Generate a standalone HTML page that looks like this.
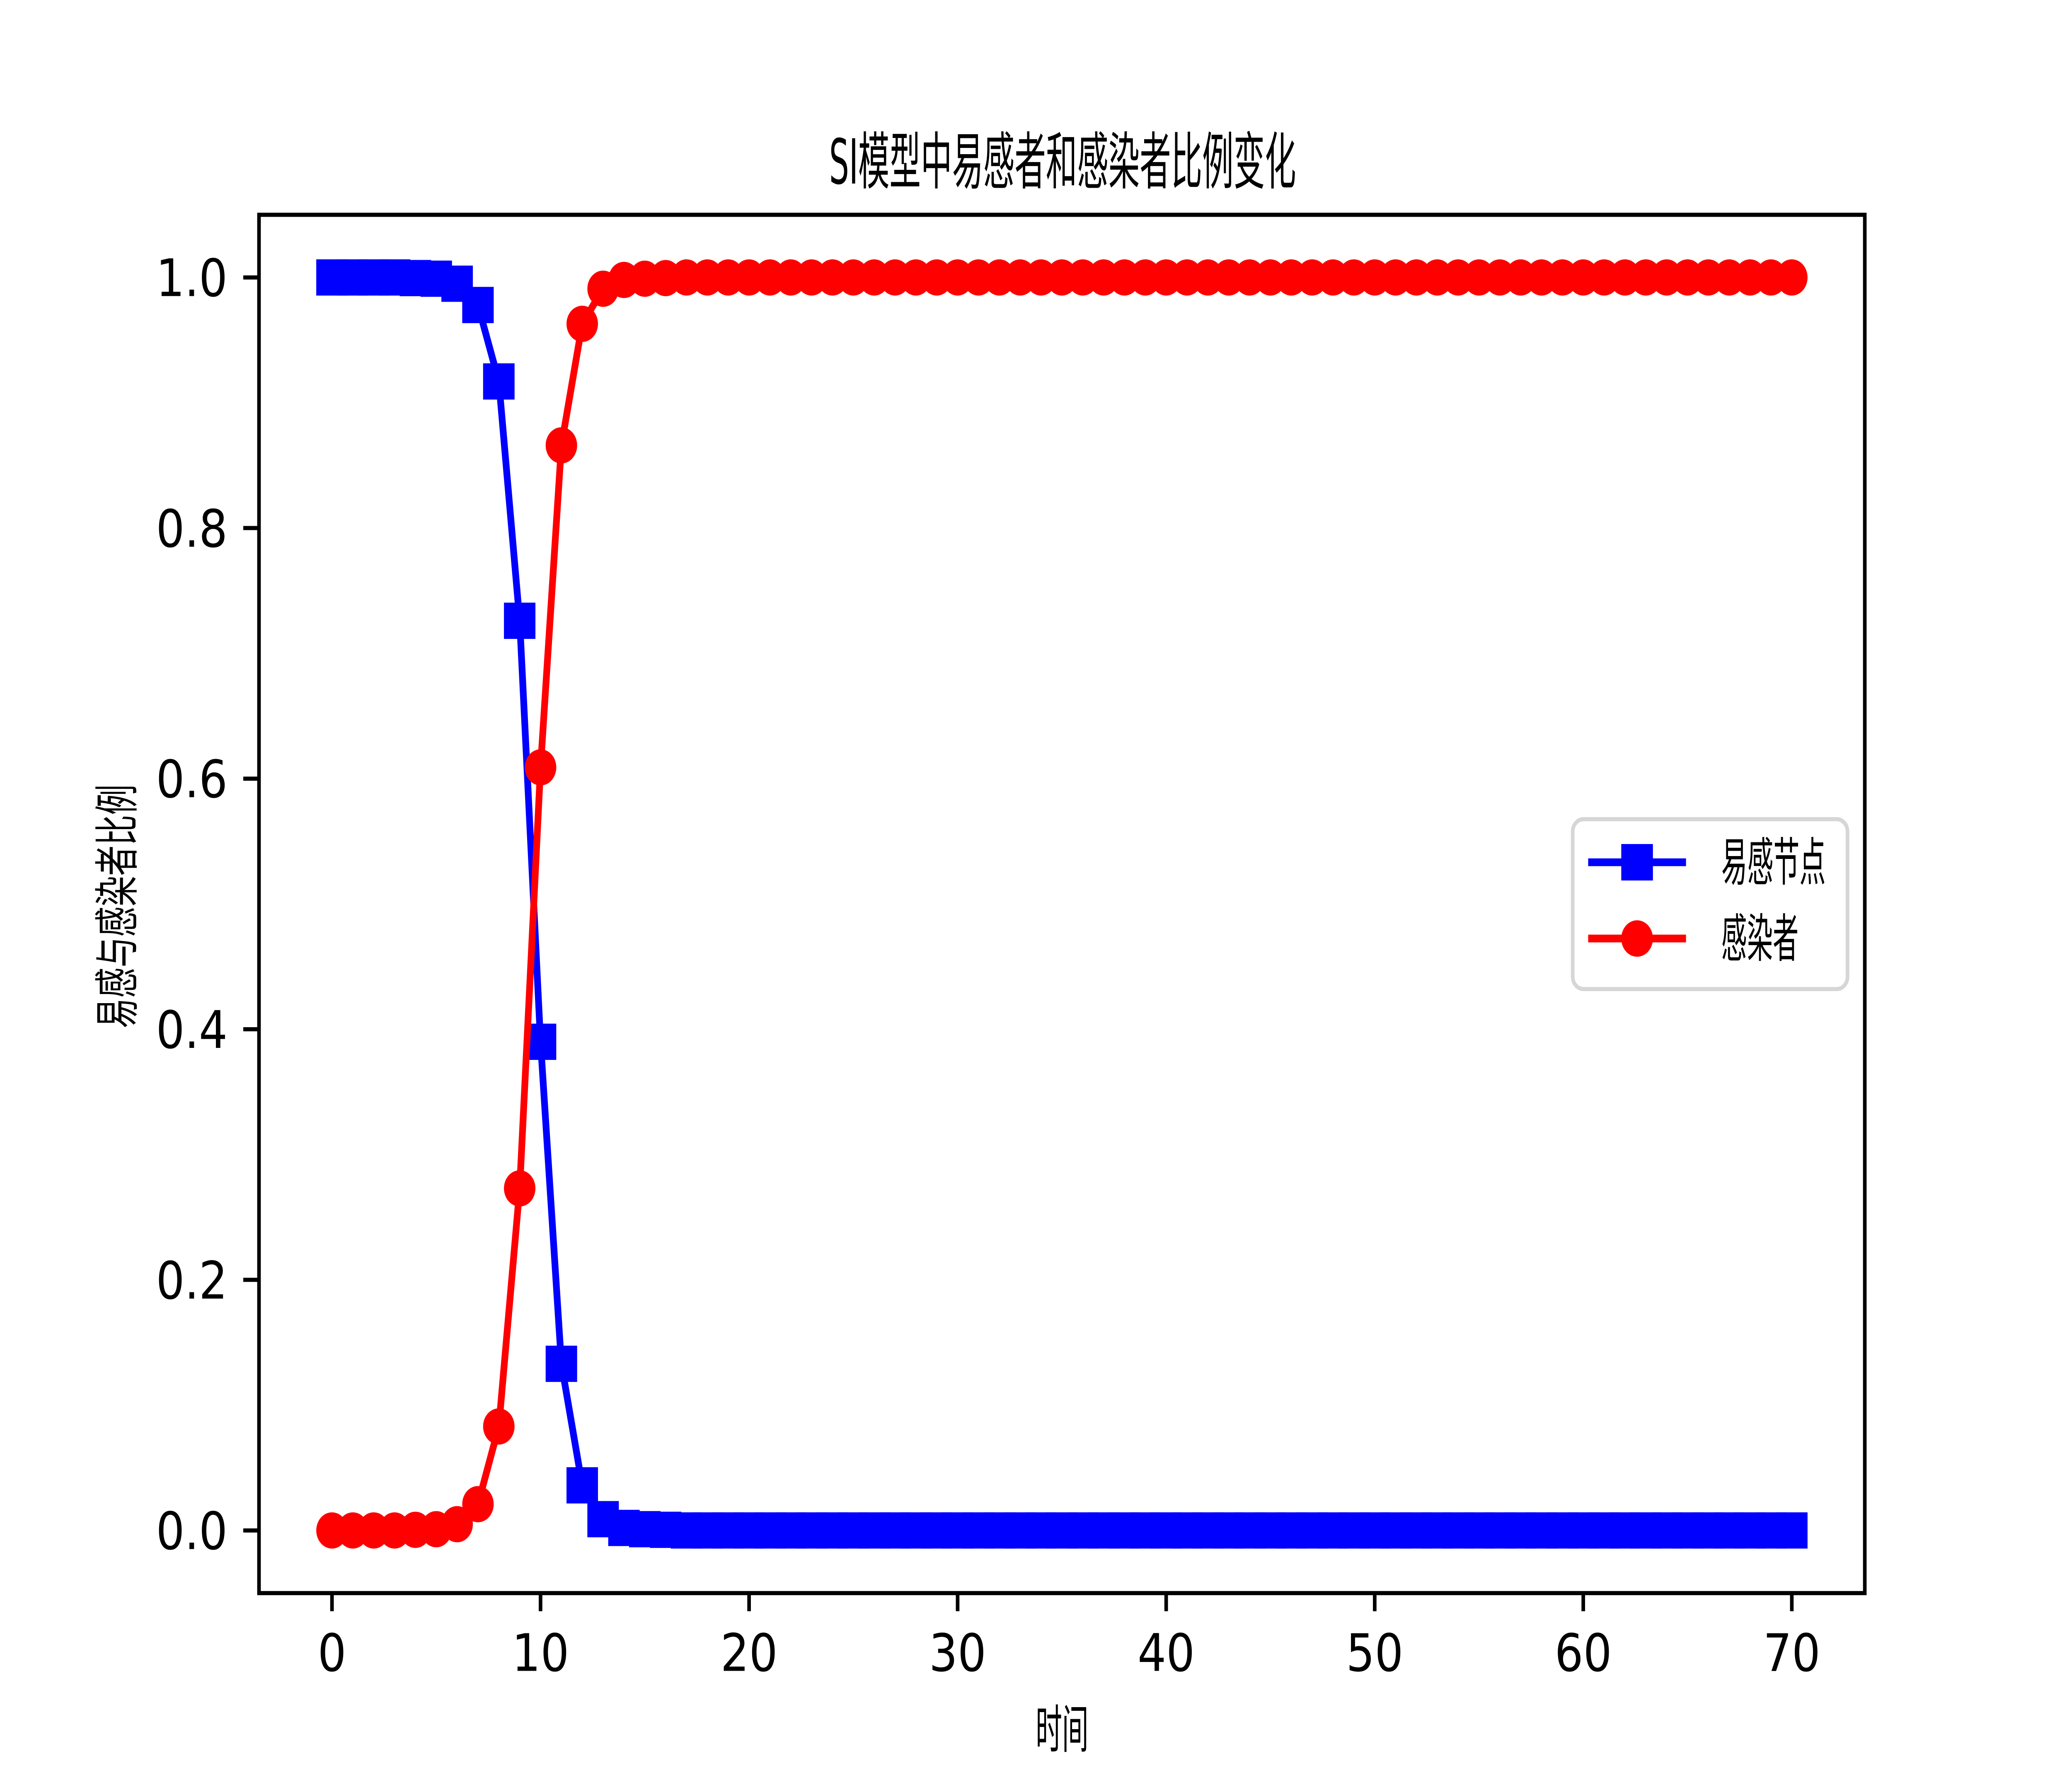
<!DOCTYPE html>
<html><head><meta charset="utf-8"><style>
html,body{margin:0;padding:0;background:#fff;width:100%;height:100%;overflow:hidden;}
svg{display:block;position:fixed;left:0;top:0;width:100vw;height:100vh;}
text{font-family:"DejaVu Sans","Liberation Sans","Noto Sans CJK SC",sans-serif;fill:#000;}
</style></head><body>
<svg id="chart" viewBox="0 0 5760 4320" preserveAspectRatio="none" xmlns="http://www.w3.org/2000/svg">
<rect width="5760" height="4320" fill="#fff"/>
<g id="plot"></g>
<text x="2305" y="443" font-size="150" textLength="1298" lengthAdjust="spacingAndGlyphs">SI模型中易感者和感染者比例变化</text>
<text x="2879" y="4218" font-size="125" textLength="147" lengthAdjust="spacingAndGlyphs">时间</text>
<text transform="translate(370,2482) rotate(-90)" font-size="125" textLength="589" lengthAdjust="spacingAndGlyphs">易感与感染者比例</text>
<g>
<rect x="4372" y="1977" width="764" height="410" rx="30" fill="#fff" fill-opacity="0.8" stroke="#d6d6d6" stroke-width="10"/>
<g>
<line x1="4415" x2="4687" y1="2081" y2="2081" stroke="#0000ff" stroke-width="18.75"/>
<rect x="4507" y="2037" width="88" height="88" fill="#0000ff"/>
<text x="4785" y="2125" font-size="125" textLength="290" lengthAdjust="spacingAndGlyphs">易感节点</text>
</g>
<g>
<line x1="4415" x2="4687" y1="2265" y2="2265" stroke="#ff0000" stroke-width="18.75"/>
<circle cx="4551" cy="2265" r="44" fill="#ff0000"/>
<text x="4785" y="2309" font-size="125" textLength="215" lengthAdjust="spacingAndGlyphs">感染者</text>
</g>
</g>
</svg>
<script>
const susceptible = [1,1,1,1,0.9995,0.999,0.995,0.978,0.917,0.726,0.39,0.133,0.036,0.009,0.002,0.001,0.0005,
0,0,0,0,0,0,0,0,0,0,
0,0,0,0,0,0,0,0,0,0,
0,0,0,0,0,0,0,0,0,0,
0,0,0,0,0,0,0,0,0,0,
0,0,0,0,0,0,0,0,0,0,
0,0,0,0];
const infected = [0,0,0,0,0.0005,0.001,0.005,0.021,0.083,0.273,0.609,0.866,0.963,0.991,0.998,0.999,0.9995,
1,1,1,1,1,1,1,1,1,1,
1,1,1,1,1,1,1,1,1,1,
1,1,1,1,1,1,1,1,1,1,
1,1,1,1,1,1,1,1,1,1,
1,1,1,1,1,1,1,1,1,1,
1,1,1,1];
const steps = susceptible.map((_, i) => i);
const xTicks = [0,10,20,30,40,50,60,70];
const yTicks = [0,0.2,0.4,0.6,0.8,1.0];
const yTickLabels = ["0.0","0.2","0.4","0.6","0.8","1.0"];

const L=720,R=5184,T=518.4,B=3844.8;
const xmin=-3.5,xmax=73.5,ymin=-0.05,ymax=1.05;
const X=v=>L+(v-xmin)/(xmax-xmin)*(R-L);
const Y=v=>B-(v-ymin)/(ymax-ymin)*(B-T);
const NS="http://www.w3.org/2000/svg";
const g=document.getElementById('plot');
function mk(tag,attrs,parent){const e=document.createElementNS(NS,tag);for(const k in attrs)e.setAttribute(k,attrs[k]);(parent||g).appendChild(e);return e;}

function series(vals,color,marker,name){
  const grp=mk('g',{});
  
  
  const n=Math.min(vals.length,steps.length);
  const pts=[];
  for(let i=0;i<n;i++) pts.push(X(steps[i])+','+Y(vals[i]));
  const pl=mk('polyline',{points:pts.join(' '),fill:'none',stroke:color,'stroke-width':18.75,'stroke-linejoin':'round'},grp);
  
  
  for(let i=0;i<n;i++){
    const v=vals[i];
    let m;
    if(marker==='s') m=mk('rect',{x:X(steps[i])-43.75,y:Y(v)-43.75,width:87.5,height:87.5,fill:color},grp);
    else m=mk('circle',{cx:X(steps[i]),cy:Y(v),r:43.75,fill:color},grp);
    
    
  }
}
series(susceptible,'#0000ff','s','susceptible-series');
series(infected,'#ff0000','o','infected-series');

const fr=mk('rect',{x:L,y:T,width:R-L,height:B-T,fill:'none',stroke:'#000','stroke-width':10});



xTicks.forEach(t=>{
  const l=mk('line',{x1:X(t),x2:X(t),y1:B,y2:B+43.75,stroke:'#000','stroke-width':10});
  
  
  const tx=mk('text',{x:X(t),y:B+43.75+43.75+100,'font-size':125,'text-anchor':'middle'});
  tx.textContent=String(t);
  
  
});
yTicks.forEach((t,i)=>{
  const l=mk('line',{x1:L-43.75,x2:L,y1:Y(t),y2:Y(t),stroke:'#000','stroke-width':10});
  
  
  const tx=mk('text',{x:L-43.75-43.75,y:Y(t)+45,'font-size':125,'text-anchor':'end'});
  tx.textContent=yTickLabels[i];
  
  
});
</script>
</body></html>
